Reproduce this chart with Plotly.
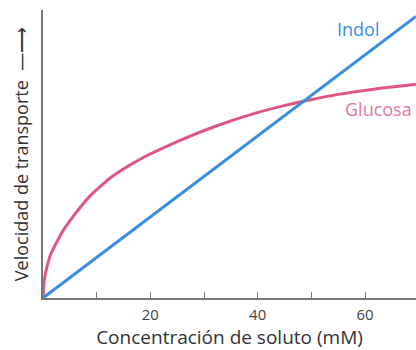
import plotly.graph_objects as go

# concentracion (mM) y velocidad (unidades arbitrarias, 0-100)
glucosa_x = [0, 0.22, 0.71, 1.45, 2.7, 3.95, 5.8, 8.7, 12.4, 15.5, 18.6, 21.8, 26.1,
             32.4, 38.5, 44.7, 49.2, 55.0, 62.0, 69.5]
glucosa_y = [0, 5.9, 10.6, 15.3, 19.9, 24.0, 28.8, 35.3, 41.5, 45.4, 48.7, 51.6, 55.2,
             59.8, 63.6, 66.7, 68.6, 70.7, 72.6, 74.2]
indol_x = [0, 69.5]
indol_y = [0, 97.8]

x_ticks = [10, 20, 30, 40, 50, 60]
x_ticktext = ["", "20", "", "40", "", "60"]

blue = "#3a8de3"
pink = "#df5780"

fig = go.Figure()
fig.add_trace(go.Scatter(x=glucosa_x, y=glucosa_y, mode="lines",
                         line=dict(color=pink, width=3, shape="spline", smoothing=0.5),
                         name="Glucosa", cliponaxis=False))
fig.add_trace(go.Scatter(x=indol_x, y=indol_y, mode="lines", line=dict(color=blue, width=3),
                         name="Indol", cliponaxis=False))

fig.add_annotation(x=58.6, y=93.3, text="Indol", showarrow=False, font=dict(color=blue, size=18))
fig.add_annotation(x=55.9, y=65.5, text="Glucosa", showarrow=False, xanchor="left",
                   font=dict(color="#e2789a", size=18))

fig.update_layout(
    width=416, height=350,
    margin=dict(l=43, r=0, t=10, b=52),
    paper_bgcolor="white", plot_bgcolor="white",
    showlegend=False,
    font=dict(family="Open Sans, sans-serif", color="#444", size=15),
    xaxis=dict(range=[0, 69.5], showgrid=False, zeroline=False, showline=True, linecolor="#777", linewidth=1.5,
               tickvals=x_ticks, ticktext=x_ticktext, ticks="inside", ticklen=6, tickcolor="#777",
               ticklabelstandoff=2, automargin=False,
               title=dict(text="Concentración de soluto (mM)", font=dict(size=19, color="#333"), standoff=7)),
    yaxis=dict(range=[0, 100], showgrid=False, zeroline=False, showline=True, linecolor="#777", linewidth=1.5,
               showticklabels=False, ticks="", automargin=False,
               title=dict(text="Velocidad de transporte  —⟶", font=dict(size=18, color="#333"), standoff=8)),
)

fig.write_html("out.html", config={"displayModeBar": False},
               post_script="document.body.style.margin='0';")
